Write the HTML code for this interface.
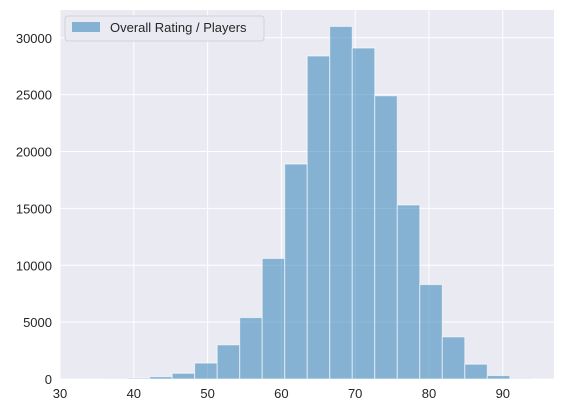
<!DOCTYPE html>
<html><head><meta charset="utf-8"><style>
body{margin:0;background:#fff;width:564px;height:411px;overflow:hidden}
text{font-family:"Liberation Sans",sans-serif;font-size:13px;fill:#262626}
</style></head><body>
<svg id="chart" width="564" height="411" xmlns="http://www.w3.org/2000/svg">
<rect x="60" y="10" width="494" height="369" fill="#eaeaf2"/>
<g id="grid"></g><g id="bars"></g><g id="ticks"></g>
<g>
<rect x="65" y="16" width="199" height="25" rx="3" fill="#eaeaf2" stroke="#ccc" stroke-opacity="0.8"/>
<rect x="72" y="22" width="28" height="10" fill="#1f77b4" fill-opacity="0.5"/>
<text x="110" y="32">Overall Rating / Players</text>
</g>
</svg>
<script>
const binEdgeStart = 33, binWidth = 3.05;
const counts = [10,30,80,200,500,1400,3000,5400,10600,18900,28400,31000,29100,24900,15300,8300,3700,1300,300,40];
const xTicks = [30,40,50,60,70,80,90];
const yTicks = [0,5000,10000,15000,20000,25000,30000];
const NS="http://www.w3.org/2000/svg";
const x=v=>60+(v-30)*7.38, y=v=>379-v*0.011373;
function mk(t,a,p){const e=document.createElementNS(NS,t);for(const k in a)e.setAttribute(k,a[k]);document.getElementById(p).appendChild(e);return e;}
xTicks.forEach(t=>{
 const l=mk('line',{x1:x(t),x2:x(t),y1:10,y2:379,stroke:'#fff','stroke-width':1},'grid');
 
 
 const tx=mk('text',{x:x(t),y:398,'text-anchor':'middle'},'ticks');tx.textContent=t;
 
 
});
yTicks.forEach(t=>{
 const l=mk('line',{x1:60,x2:554,y1:y(t),y2:y(t),stroke:'#fff','stroke-width':1},'grid');
 
 
 const tx=mk('text',{x:52,y:y(t)+5,'text-anchor':'end'},'ticks');tx.textContent=t;
 
 
});
counts.forEach((c,i)=>{
 const a=binEdgeStart+i*binWidth,b=a+binWidth;
 const r=mk('rect',{x:x(a),y:y(c),width:x(b)-x(a),height:379-y(c),fill:'#1f77b4','fill-opacity':0.5,stroke:'#fff','stroke-opacity':0.6,'stroke-width':1},'bars');
 
 
});
</script>
</body></html>
